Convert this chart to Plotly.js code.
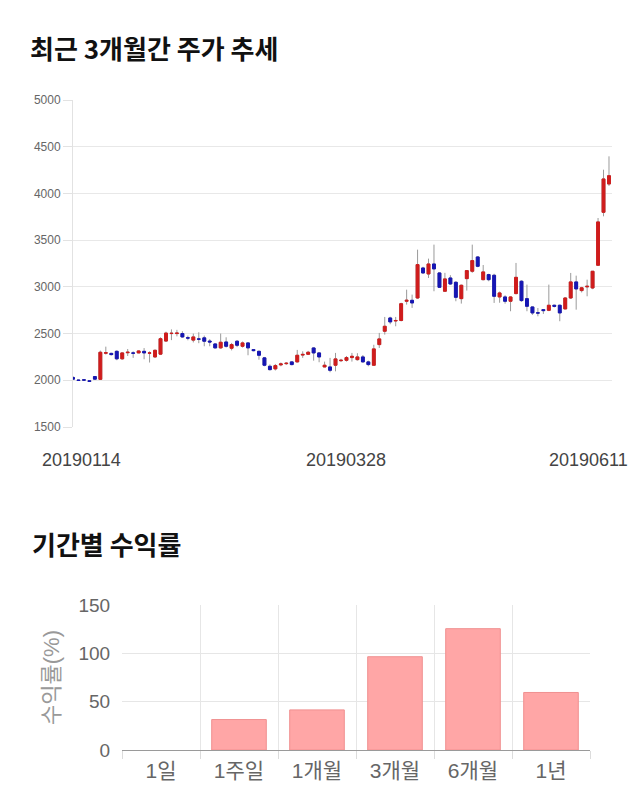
<!DOCTYPE html>
<html>
<head>
<meta charset="utf-8">
<script src="https://cdn.plot.ly/plotly-3.0.1.min.js"></script>
<style>
html,body{margin:0;padding:0;background:#fff;}
#chart{width:640px;height:810px;}
</style>
</head>
<body>
<div id="chart"></div>
<script>
// ---- Candlestick data (trading days 2019-01-14 .. 2019-06-11) ----
const dates = [
'20190114','20190115','20190116','20190117','20190118','20190121','20190122','20190123','20190124','20190125',
'20190128','20190129','20190130','20190131','20190201','20190207','20190208','20190211','20190212','20190213',
'20190214','20190215','20190218','20190219','20190220','20190221','20190222','20190225','20190226','20190227',
'20190228','20190304','20190305','20190306','20190307','20190308','20190311','20190312','20190313','20190314',
'20190315','20190318','20190319','20190320','20190321','20190322','20190325','20190326','20190327','20190328',
'20190329','20190401','20190402','20190403','20190404','20190405','20190408','20190409','20190410','20190411',
'20190412','20190415','20190416','20190417','20190418','20190419','20190422','20190423','20190424','20190425',
'20190426','20190429','20190430','20190503','20190507','20190508','20190509','20190510','20190513',
'20190514','20190515','20190516','20190517','20190520','20190521','20190522','20190523','20190524','20190527',
'20190528','20190529','20190530','20190531','20190603','20190604','20190605','20190607','20190610','20190611'
];
const openP = [
2030,2003,2005,1995,2040,2010,2290,2288,2310,
2230,2295,2293,2293,2310,2290,2250,2280,2420,2500,
2500,2500,2455,2430,2443,2454,2420,2389,2347,2410,
2343,2418,2364,2400,2328,2310,2240,2150,2122,2165,
2178,2197,2197,2270,2278,2346,2293,2143,2143,2161,
2210,2214,2243,2221,2250,2197,2161,2382,2525,2667,
2635,2640,2846,2856,2881,3202,3138,3245,3149,2953,
3095,3049,2874,3088,3167,3320,3077,3131,3124,2892,
2892,2846,2928,3060,2874,2785,2722,2756,2749,2803,
2803,2764,2881,3053,2960,3000,2988,3231,3798,4101
];
const highP = [
2045,2008,2010,1998,2045,2318,2360,2295,2320,
2300,2335,2310,2320,2345,2310,2330,2460,2520,2545,
2540,2525,2478,2500,2514,2478,2440,2395,2500,2460,
2400,2430,2415,2410,2335,2318,2250,2170,2175,2190,
2195,2205,2325,2310,2315,2355,2300,2200,2240,2293,
2230,2260,2293,2290,2270,2210,2380,2507,2678,2680,
2678,2830,2970,2917,3398,3215,3302,3452,3155,3150,
3125,3060,3025,3180,3452,3330,3234,3140,3140,2950,
2910,2900,3256,3070,3024,2790,2774,2760,3024,2810,
2810,2890,3149,3120,3000,3077,3170,3737,4254,4397
];
const lowP = [
2005,1995,1998,1982,2008,2005,2275,2265,2215,
2220,2260,2240,2290,2225,2190,2240,2270,2410,2430,
2470,2455,2428,2405,2397,2364,2364,2340,2337,2350,
2320,2355,2350,2268,2310,2220,2150,2105,2105,2150,
2165,2160,2190,2240,2270,2210,2193,2140,2086,2096,
2195,2200,2200,2210,2190,2150,2155,2346,2489,2600,
2578,2630,2810,2775,2870,3140,3095,2953,2990,2950,
3020,2846,2821,2960,3150,3210,3070,3060,2828,2830,
2820,2739,2920,2840,2739,2700,2685,2710,2740,2780,
2632,2760,2870,2756,2940,2899,2975,3225,3755,4080
];
const closeP = [
2012,1998,2002,1988,2012,2300,2295,2275,2230,
2293,2300,2290,2314,2293,2293,2321,2445,2505,2503,
2505,2464,2452,2464,2440,2418,2410,2347,2407,2364,
2382,2375,2400,2347,2318,2268,2161,2114,2157,2175,
2182,2168,2268,2277,2300,2293,2250,2161,2107,2229,
2214,2243,2257,2250,2197,2168,2336,2443,2578,2625,
2640,2820,2856,2828,3238,3149,3245,3192,2995,3085,
3031,2888,3017,3174,3281,3220,3160,3077,2899,2935,
2846,2892,3102,2853,2792,2721,2720,2746,2803,2792,
2721,2881,3053,2978,2990,3006,3167,3695,4155,4190
];
const tickDates = ['20190114','20190328','20190611'];
const priceTicks = [1500,2000,2500,3000,3500,4000,4500,5000];

// ---- Period returns ----
const periods = ['1일','1주일','1개월','3개월','6개월','1년'];
const returns = [0, 31.5, 41.5, 96.5, 125.5, 59.5];

// ---- Build traces ----
const bodyHigh = openP.map((o,i)=>Math.max(o, closeP[i]));
const bodyLow  = openP.map((o,i)=>Math.min(o, closeP[i]));
const RED = '#d01c1c', BLUE = '#1616b4', WICK = '#9a9a9a';

const wickTrace = {
  type:'candlestick', x:dates, open:openP, high:highP, low:lowP, close:closeP,
  xaxis:'x', yaxis:'y', whiskerwidth:0, line:{width:1},
  increasing:{line:{color:WICK,width:1}, fillcolor:WICK},
  decreasing:{line:{color:WICK,width:1}, fillcolor:WICK},
  showlegend:false, hoverinfo:'skip'
};
const bodyTrace = {
  type:'candlestick', x:dates, open:openP, high:bodyHigh, low:bodyLow, close:closeP,
  xaxis:'x', yaxis:'y', whiskerwidth:0, line:{width:1},
  increasing:{line:{color:RED,width:1}, fillcolor:RED},
  decreasing:{line:{color:BLUE,width:1}, fillcolor:BLUE},
  showlegend:false
};
const barTrace = {
  type:'bar', x:periods, y:returns, xaxis:'x2', yaxis:'y2',
  marker:{color:'#ffa6a6', line:{color:'#f09090', width:returns.map(v => v > 0 ? 1 : 0)}},
  showlegend:false
};

const W=640, H=810;
const px = v => v/W, py = v => 1 - v/H;
const FONT = 'Arial, "Noto Sans CJK KR", sans-serif';

const tickShift = [-33, 5, 21];
const tickAnchor = ['left','center','right'];
const annotations = tickDates.map((d,i)=>({
  x:dates.indexOf(d), xref:'x', y:py(460), yref:'paper', text:d, showarrow:false,
  xanchor:tickAnchor[i], yanchor:'middle', xshift:tickShift[i],
  font:{family:FONT, size:18, color:'#444'}
}));
annotations.push({
  x:px(30), xref:'paper', y:py(543), yref:'paper', text:'기간별 수익률',
  showarrow:false, xanchor:'left', yanchor:'middle',
  font:{family:'"Noto Sans CJK KR", sans-serif', size:26, color:'#111', weight:700}
});

const layout = {
  width:W, height:H, margin:{l:0,r:0,t:0,b:0},
  paper_bgcolor:'#fff', plot_bgcolor:'#fff',
  font:{family:FONT, color:'#666'},
  showlegend:false,
  boxgap:0.25,
  title:{text:'최근 3개월간 주가 추세', x:px(30), xref:'paper', xanchor:'left',
         y:py(50), yref:'paper', yanchor:'middle',
         font:{family:'"Noto Sans CJK KR", sans-serif', size:26, color:'#111', weight:700}},
  xaxis:{domain:[px(73), px(612)], anchor:'y', type:'category', range:[0, 98.55],
         showgrid:false, showticklabels:false, ticks:'', zeroline:false,
         rangeslider:{visible:false}, fixedrange:true},
  yaxis:{domain:[py(427), py(100)], anchor:'x', range:[1500,5000], tickvals:priceTicks,
         showgrid:true, gridcolor:'#e8e8e8', gridwidth:1,
         ticks:'outside', ticklen:9, tickcolor:'#e2e2e2',
         showline:true, linecolor:'#e2e2e2', zeroline:false,
         tickfont:{family:FONT, size:12, color:'#666'}},
  xaxis2:{domain:[px(122), px(590)], anchor:'y2', type:'category', tickson:'boundaries',
          showgrid:true, gridcolor:'#e6e6e6', ticks:'outside', ticklen:8, tickcolor:'#dcdcdc',
          ticklabelstandoff:6,
          showline:false, zeroline:false,
          tickfont:{family:FONT, size:21, color:'#666'}},
  yaxis2:{domain:[py(750), py(605)], anchor:'x2', range:[0,150], dtick:50,
          showgrid:true, gridcolor:'#e6e6e6', zeroline:true, zerolinecolor:'#9a9a9a', zerolinewidth:1,
          ticks:'outside', ticklen:7, tickcolor:'rgba(0,0,0,0)', showline:false,
          tickfont:{family:FONT, size:19, color:'#666'},
          title:{text:'수익률(%)', standoff:12, font:{family:FONT, size:22, color:'#999'}}},
  bargap:0.3,
  annotations:annotations
};

Plotly.newPlot('chart', [wickTrace, bodyTrace, barTrace], layout, {staticPlot:true, displayModeBar:false});
</script>
</body>
</html>
